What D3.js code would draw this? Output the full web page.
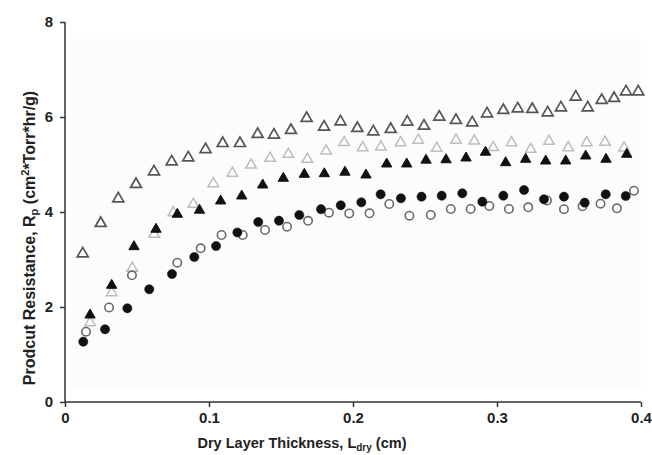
<!DOCTYPE html>
<html>
<head>
<meta charset="utf-8">
<script src="https://cdn.jsdelivr.net/npm/d3@7/dist/d3.min.js"></script>
<style>
  html, body { margin: 0; padding: 0; background: #fff; }
  svg { display: block; }
  text { font-family: "Liberation Sans", Arial, sans-serif; font-weight: bold; fill: #222; }
</style>
</head>
<body>
<svg id="chart" width="652" height="455"></svg>
<script>
// ---- Data ----
const xTicks = [0, 0.1, 0.2, 0.3, 0.4];
const yTicks = [0, 2, 4, 6, 8];

// open dark-gray triangles (top series)
const seriesA = [
  [0.0123,3.143],[0.0248,3.783],[0.0370,4.301],[0.0493,4.604],[0.0618,4.869],[0.0741,5.080],
  [0.0856,5.164],[0.0976,5.337],[0.1095,5.467],[0.1215,5.467],[0.1338,5.657],[0.1451,5.642],
  [0.1569,5.741],[0.1678,5.994],[0.1799,5.811],[0.1913,5.922],[0.2030,5.783],[0.2141,5.712],
  [0.2262,5.762],[0.2377,5.916],[0.2493,5.832],[0.2599,6.021],[0.2715,5.952],[0.2828,5.901],
  [0.2931,6.091],[0.3044,6.162],[0.3144,6.196],[0.3245,6.183],[0.3352,6.112],[0.3444,6.217],
  [0.3547,6.442],[0.3630,6.217],[0.3727,6.373],[0.3813,6.415],[0.3896,6.554],[0.3981,6.554]
];
// open light-gray triangles
const seriesB = [
  [0.0174,1.691],[0.0324,2.322],[0.0467,2.836],[0.0620,3.552],[0.0752,4.006],[0.0891,4.183],
  [0.1030,4.617],[0.1162,4.836],[0.1292,5.011],[0.1424,5.152],[0.1551,5.236],[0.1683,5.131],
  [0.1813,5.305],[0.1938,5.484],[0.2067,5.375],[0.2194,5.389],[0.2331,5.480],[0.2453,5.531],
  [0.2581,5.362],[0.2715,5.531],[0.2842,5.516],[0.2974,5.379],[0.3101,5.480],[0.3234,5.341],
  [0.3361,5.509],[0.3495,5.375],[0.3623,5.480],[0.3750,5.488],[0.3882,5.368]
];
// filled black triangles
const seriesC = [
  [0.0174,1.853],[0.0324,2.478],[0.0479,3.291],[0.0632,3.657],[0.0780,3.973],[0.0934,4.059],
  [0.1081,4.253],[0.1227,4.358],[0.1373,4.589],[0.1516,4.731],[0.1662,4.815],[0.1801,4.827],
  [0.1944,4.859],[0.2090,4.800],[0.2234,5.032],[0.2373,5.032],[0.2507,5.112],[0.2646,5.120],
  [0.2785,5.158],[0.2920,5.280],[0.3060,5.059],[0.3199,5.131],[0.3338,5.095],[0.3477,5.095],
  [0.3616,5.200],[0.3757,5.131],[0.3901,5.236]
];
// filled black circles
const seriesD = [
  [0.0127,1.269],[0.0278,1.531],[0.0433,1.973],[0.0585,2.373],[0.0743,2.695],[0.0898,3.053],
  [0.1049,3.284],[0.1197,3.568],[0.1342,3.789],[0.1486,3.817],[0.1627,3.937],[0.1778,4.059],
  [0.1915,4.141],[0.2058,4.204],[0.2192,4.373],[0.2333,4.288],[0.2476,4.322],[0.2616,4.343],
  [0.2759,4.394],[0.2898,4.217],[0.3044,4.343],[0.3188,4.463],[0.3326,4.267],[0.3465,4.322],
  [0.3609,4.196],[0.3755,4.373],[0.3894,4.337]
];
// open gray circles
const seriesE = [
  [0.0146,1.480],[0.0306,1.989],[0.0465,2.667],[0.0780,2.933],[0.0942,3.236],[0.1087,3.516],
  [0.1234,3.516],[0.1389,3.621],[0.1542,3.691],[0.1688,3.815],[0.1833,3.985],[0.1974,3.971],
  [0.2115,3.973],[0.2252,4.168],[0.2392,3.922],[0.2540,3.937],[0.2679,4.063],[0.2817,4.063],
  [0.2947,4.126],[0.3083,4.063],[0.3217,4.099],[0.3347,4.242],[0.3465,4.059],[0.3594,4.120],
  [0.3719,4.175],[0.3833,4.078],[0.3951,4.448]
];

// ---- Layout ----
const svg = d3.select("#chart");
const margin = { left: 65, right: 11, top: 22, bottom: 53 };
const W = 652, H = 455;
const x = d3.scaleLinear().domain([0, 0.4]).range([margin.left, W - margin.right]);
const y = d3.scaleLinear().domain([0, 8]).range([H - margin.bottom, margin.top]);

// faint plot background
svg.append("rect")
  .attr("x", x(0.005)).attr("y", y(7.65))
  .attr("width", x(0.4) - x(0.005)).attr("height", y(0.25) - y(7.65))
  .attr("fill", "#fcfcfc");

// axes
const xAxis = d3.axisBottom(x).tickValues(xTicks).tickFormat(d => d === 0 ? "0" : d3.format(".1f")(d)).tickSize(5).tickPadding(5);
const yAxis = d3.axisLeft(y).tickValues(yTicks).tickFormat(d3.format("d")).tickSize(5).tickPadding(7);

const gx = svg.append("g").attr("transform", `translate(0,${y(0)})`).call(xAxis);
const gy = svg.append("g").attr("transform", `translate(${x(0)},0)`).call(yAxis);
[gx, gy].forEach(g => {
  g.select(".domain").attr("stroke", "#333").attr("stroke-width", 1.5);
  g.selectAll(".tick line").attr("stroke", "#333").attr("stroke-width", 1.5);
  g.selectAll(".tick text").style("font-size", "15px").style("font-weight", "bold")
    .style("font-family", '"Liberation Sans", Arial, sans-serif').attr("fill", "#222");
});
gy.select(".domain").attr("d", `M-0,${y(8)}V${y(0)}`);
gx.select(".domain").attr("d", `M${x(0)},0H${x(0.4)}`);

// axis titles
const xt = svg.append("text").attr("x", 302).attr("y", 448)
  .attr("text-anchor", "middle").style("font-size", "14.5px");
xt.append("tspan").text("Dry Layer Thickness, L");
xt.append("tspan").attr("dy", 3).style("font-size", "10px").text("dry");
xt.append("tspan").attr("dy", -3).text(" (cm)");

const yt = svg.append("text").attr("transform", `translate(35,238) rotate(-90)`)
  .attr("text-anchor", "middle").style("font-size", "16px");
yt.append("tspan").text("Prodcut Resistance, R");
yt.append("tspan").attr("dy", 3).style("font-size", "11px").text("p");
yt.append("tspan").attr("dy", -3).text(" (cm");
yt.append("tspan").attr("dy", -6).style("font-size", "11px").text("2");
yt.append("tspan").attr("dy", 6).text("*Torr*hr/g)");

// markers
const tri = (size) => d3.symbol().type(d3.symbolTriangle).size(size)();
const plot = svg.append("g");

function drawTriangles(data, size, fill, stroke, sw) {
  plot.append("g").selectAll("path").data(data).join("path")
    .attr("d", tri(size))
    .attr("transform", d => `translate(${x(d[0])},${y(d[1]) + 1})`)
    .attr("fill", fill).attr("stroke", stroke).attr("stroke-width", sw);
}
function drawCircles(data, r, fill, stroke, sw) {
  plot.append("g").selectAll("circle").data(data).join("circle")
    .attr("cx", d => x(d[0])).attr("cy", d => y(d[1])).attr("r", r)
    .attr("fill", fill).attr("stroke", stroke).attr("stroke-width", sw);
}

drawTriangles(seriesB, 48, "#fff", "#bdbdbd", 1.5);
drawTriangles(seriesA, 52, "#fff", "#555", 1.7);
drawCircles(seriesE, 4.2, "#fff", "#6a6a6a", 1.6);
drawTriangles(seriesC, 46, "#111", "#111", 1);
drawCircles(seriesD, 4.6, "#111", "#111", 0.5);
</script>
</body>
</html>
